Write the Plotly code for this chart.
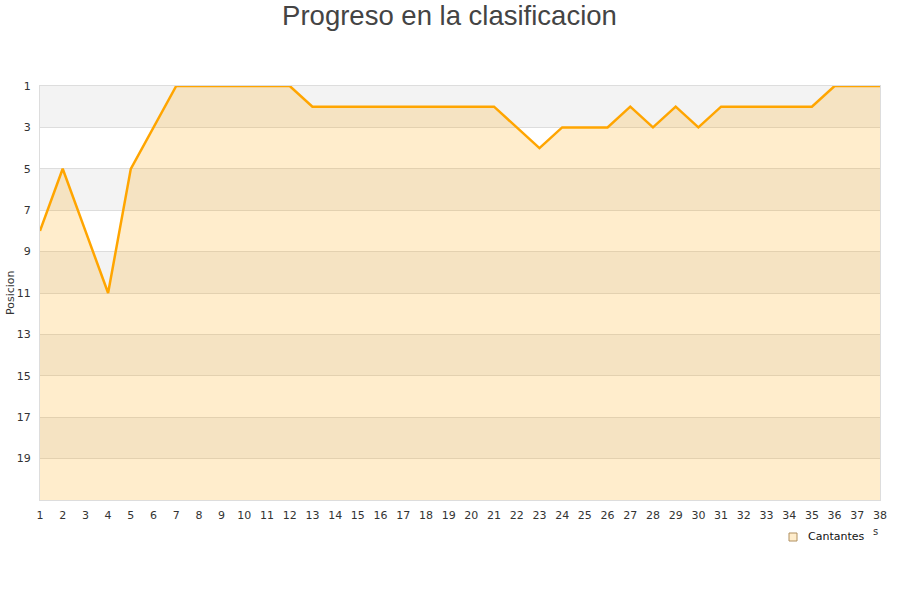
import plotly.graph_objects as go

jornadas = list(range(1, 39))
posiciones = [8, 5, 8, 11, 5, 3, 1, 1, 1, 1, 1, 1, 2, 2, 2, 2, 2, 2, 2, 2,
              2, 3, 4, 3, 3, 3, 2, 3, 2, 3, 2, 2, 2, 2, 2, 1, 1, 1]
serie = "Cantantes"
y_titulo = "Posicion"
y_ticks = [1, 3, 5, 7, 9, 11, 13, 15, 17, 19]
y_min, y_max = 1, 21

W, H = 900, 600
L, R, T, B = 40, 20, 86, 100

fig = go.Figure()

# alternating background bands
shapes = []
for i, start in enumerate(range(y_min, y_max, 2)):
    if i % 2 == 0:
        shapes.append(dict(type="rect", xref="paper", yref="y", x0=0, x1=1,
                           y0=start, y1=start + 2, fillcolor="#f3f3f3",
                           line=dict(width=0), layer="below"))

PW, PH = W - L - R, H - T - B

def px_x(p):
    return (p - L) / PW

def px_y(p):
    return (H - B - p) / PH

# legend box (manual, to match placement)
sq = 4
shapes.append(dict(type="rect", xref="paper", yref="paper",
                   x0=px_x(793 - sq), x1=px_x(793 + sq),
                   y0=px_y(537 + sq), y1=px_y(537 - sq),
                   fillcolor="#ffedcc", line=dict(color="#b09060", width=1)))

annotations = [
    dict(text=serie, xref="paper", yref="paper", x=px_x(806), y=px_y(536),
         xanchor="left", yanchor="middle", showarrow=False,
         font=dict(family="DejaVu Sans, sans-serif", size=11, color="#111111")),
    dict(text="s", xref="paper", yref="paper", x=px_x(875), y=px_y(531),
         xanchor="center", yanchor="middle", showarrow=False,
         font=dict(family="DejaVu Sans, sans-serif", size=10, color="#333333")),
    dict(text=y_titulo, xref="paper", yref="paper", x=px_x(10), y=px_y(293),
         xanchor="center", yanchor="middle", showarrow=False, textangle=-90,
         font=dict(family="DejaVu Sans, sans-serif", size=11, color="#333333")),
]

# baseline for fill
fig.add_trace(go.Scatter(x=jornadas, y=[y_max] * len(jornadas), mode="lines",
                         line=dict(width=0), showlegend=False, hoverinfo="skip"))
fig.add_trace(go.Scatter(x=jornadas, y=posiciones, mode="lines", name=serie,
                         line=dict(color="#ffa500", width=2.5),
                         fill="tonexty", fillcolor="rgba(255,165,0,0.2)",
                         showlegend=False))

fig.update_layout(
    width=W, height=H,
    paper_bgcolor="white", plot_bgcolor="white",
    margin=dict(l=L, r=R, t=T, b=B),
    title=dict(text="Progreso en la clasificacion", x=449.5 / W, xanchor="center",
               y=1 - 15 / H, yanchor="middle",
               font=dict(family="Liberation Sans, Arial, sans-serif", size=27.5, color="#444444")),
    shapes=shapes,
    annotations=annotations,
    showlegend=False,
    font=dict(family="DejaVu Sans, sans-serif", size=11, color="#333333"),
)
fig.update_xaxes(range=[1, 38], tickmode="array", tickvals=jornadas,
                 showgrid=False, zeroline=False, showline=True, linecolor="#dddddd",
                 mirror=True, ticks="", tickfont=dict(size=11, color="#333333"),
                 ticklabelstandoff=5, automargin=False, fixedrange=True)
fig.update_yaxes(range=[y_max, y_min], tickmode="array", tickvals=y_ticks,
                 showgrid=True, gridcolor="#dddddd", gridwidth=1, zeroline=False,
                 showline=True, linecolor="#dddddd", mirror=True, ticks="",
                 tickfont=dict(size=11, color="#333333"), ticklabelstandoff=6,
                 automargin=False, fixedrange=True)

fig.write_html("out.html", config={"displayModeBar": False},
               post_script="document.body.style.margin='0px';document.body.style.padding='0px';")
